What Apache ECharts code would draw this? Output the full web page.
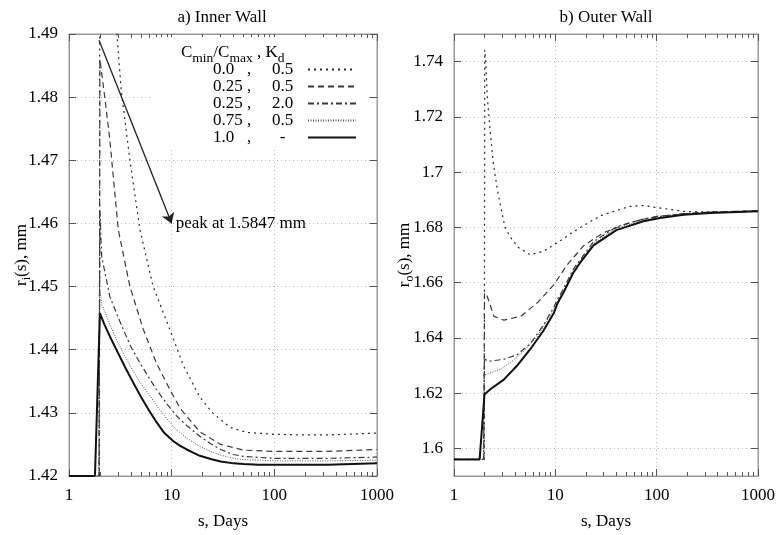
<!DOCTYPE html>
<html><head><meta charset="utf-8">
<script src="https://cdn.jsdelivr.net/npm/echarts@6/dist/echarts.min.js"></script>
<style>html,body{margin:0;padding:0;background:#fff}#c{width:783px;height:535px}</style>
</head><body><div id="c"></div><script>
// ---------- data ----------
const seriesNames = ['0.0 , 0.5', '0.25, 0.5', '0.25, 2.0', '0.75, 0.5', '1.0 , -'];
const keyRatio = ['0.0', '0.25', '0.25', '0.75', '1.0'];
const keyKd = ['0.5', '0.5', '2.0', '0.5', '-'];
const xTickLabels = ['1', '10', '100', '1000'];
const minorTicks = [2,3,4,5,6,7,8,9,20,30,40,50,60,70,80,90,200,300,400,500,600,700,800,900];
const innerTicks = [1.42, 1.43, 1.44, 1.45, 1.46, 1.47, 1.48, 1.49];
const outerTicks = [1.6, 1.62, 1.64, 1.66, 1.68, 1.7, 1.72, 1.74];

// a) inner wall
const inner00Days = [1, 1.98, 2.0, 2.2, 2.5, 2.93, 3.23, 3.92, 4.91, 6.6, 9.6, 13, 18.8, 25, 37, 54, 100, 200, 330, 340, 1000];
const inner00R    = [1.42, 1.42, 1.5847, 1.55, 1.515, 1.49, 1.481, 1.47, 1.459, 1.45, 1.4432, 1.4375, 1.4325, 1.4300, 1.4277, 1.4269, 1.4266, 1.4265, 1.4265, 1.4268, 1.4268];
const inner025Days = [1, 1.97, 2.0, 2.25, 2.5, 3.02, 3.92, 5.3, 7.1, 9.6, 12.1, 18.8, 30, 50, 100, 330, 340, 1000];
const inner025R    = [1.42, 1.42, 1.486, 1.4795, 1.4732, 1.459, 1.45, 1.4432, 1.4379, 1.4337, 1.4307, 1.4270, 1.4250, 1.4241, 1.4239, 1.4239, 1.4242, 1.4242];
const inner025kDays = [1, 1.96, 2.0, 2.08, 2.5, 3.0, 3.38, 4.0, 4.91, 6.0, 7.1, 9.0, 11.2, 14, 18.8, 24, 30, 40, 50, 100, 330, 340, 1000];
const inner025kR    = [1.42, 1.42, 1.462, 1.4548, 1.4484, 1.4452, 1.4432, 1.4405, 1.4379, 1.4356, 1.4337, 1.4314, 1.4295, 1.4280, 1.4263, 1.4251, 1.4242, 1.4234, 1.4231, 1.4228, 1.4228, 1.4230, 1.4230];
const inner075Days = [1, 1.95, 1.98, 2.08, 2.5, 2.91, 3.5, 4.22, 5.0, 6.15, 7.5, 8.93, 11, 14, 18.8, 24, 30, 40, 50, 100, 330, 340, 1000];
const inner075R    = [1.42, 1.42, 1.4500, 1.4472, 1.4440, 1.4416, 1.4390, 1.4366, 1.4347, 1.4327, 1.4307, 1.4291, 1.4274, 1.4260, 1.4247, 1.4239, 1.4233, 1.4228, 1.4226, 1.4224, 1.4224, 1.4225, 1.4225];
const inner10Days = [1, 1.79, 2.0, 2.2, 2.5, 3.0, 3.5, 4.0, 5.0, 6.0, 7.0, 8.5, 10.4, 12, 14, 18.8, 24, 30, 40, 50, 70, 100, 330, 340, 1000];
const inner10R    = [1.42, 1.42, 1.4458, 1.4441, 1.4421, 1.4395, 1.4373, 1.4355, 1.4326, 1.4304, 1.4287, 1.4268, 1.4255, 1.4248, 1.4242, 1.4232, 1.4227, 1.4223, 1.4220, 1.4219, 1.4218, 1.4218, 1.4218, 1.4220, 1.4220];

// b) outer wall
const outer00Days = [1, 1.99, 2.01, 2.06, 2.13, 2.27, 2.44, 2.68, 2.85, 3.19, 3.6, 4.3, 5.6, 7.6, 10.3, 16.3, 23.8, 29.7, 54.5, 74, 108, 184, 335, 1000];
const outer00R    = [1.596, 1.596, 1.7442, 1.7394, 1.7273, 1.7153, 1.7033, 1.6936, 1.6885, 1.680, 1.6765, 1.6728, 1.6701, 1.6713, 1.6743, 1.6792, 1.6828, 1.6846, 1.6876, 1.6879, 1.6870, 1.6858, 1.6855, 1.6858];
const outer025Days = [1, 1.97, 2.0, 2.13, 2.48, 3.11, 4.55, 6.64, 9.7, 13.1, 19.2, 29.7, 54.5, 100, 335, 1000];
const outer025R    = [1.596, 1.596, 1.6563, 1.655, 1.6478, 1.6464, 1.6478, 1.6527, 1.6593, 1.6665, 1.6735, 1.6780, 1.6818, 1.6840, 1.6856, 1.6860];
const outer025kDays = [1, 1.96, 2.0, 2.27, 3.07, 4.16, 5.63, 7.6, 9.7, 10.5, 12, 15, 23.8, 40, 74, 108, 184, 335, 1000];
const outer025kR    = [1.596, 1.596, 1.6322, 1.6316, 1.6322, 1.6338, 1.6378, 1.6445, 1.6512, 1.6540, 1.6577, 1.6648, 1.6748, 1.6802, 1.6830, 1.6840, 1.6850, 1.6855, 1.6859];
const outer075Days = [1, 1.95, 1.98, 2.85, 3.6, 4.83, 6.64, 7.6, 9.7, 10.5, 12, 15, 23.8, 40, 74, 108, 184, 335, 1000];
const outer075R    = [1.596, 1.596, 1.6265, 1.6286, 1.6310, 1.6350, 1.6405, 1.6438, 1.6505, 1.6532, 1.6569, 1.6641, 1.6741, 1.6797, 1.6826, 1.6837, 1.6848, 1.6853, 1.6858];
const outer10Days = [1, 1.79, 2.0, 2.3, 3.1, 4.16, 5.63, 7.6, 9.7, 10.5, 12, 15, 18.2, 23.8, 40, 74, 108, 184, 335, 1000];
const outer10R    = [1.596, 1.596, 1.6195, 1.6215, 1.6249, 1.6298, 1.6358, 1.6425, 1.6491, 1.6525, 1.6563, 1.6635, 1.6680, 1.6735, 1.6790, 1.6822, 1.6834, 1.6846, 1.6852, 1.6858];

// ---------- build ----------
const FONT = 'Liberation Serif';
const FS = 17;
const zip = (a, b) => a.map((v, i) => [v, b[i]]);
const innerData = [zip(inner00Days, inner00R), zip(inner025Days, inner025R), zip(inner025kDays, inner025kR), zip(inner075Days, inner075R), zip(inner10Days, inner10R)];
const outerData = [zip(outer00Days, outer00R), zip(outer025Days, outer025R), zip(outer025kDays, outer025kR), zip(outer075Days, outer075R), zip(outer10Days, outer10R)];

const lineStyles = [
  {color: '#2a2a2a', width: 1.2, type: [2, 4]},
  {color: '#3a3a3a', width: 1.2, type: [6, 4]},
  {color: '#3a3a3a', width: 1.2, type: [6, 3, 2, 3]},
  {color: '#555', width: 1, type: [1, 1.5]},
  {color: '#111', width: 2, type: 'solid'}
];

const tickColor = '#555';
const gridLine = {show: true, lineStyle: {color: '#bbb', type: [1, 3], width: 1}};
const frameLine = {show: true, onZero: false, lineStyle: {color: '#999', width: 1}};
// minor tick positions on a hidden linear decade axis (0..3 decades)
const minorDecades = minorTicks.map(v => Math.log10(v));

function xAxesFor(g) {
  const base = {gridIndex: g, type: 'log', logBase: 10, min: 1, max: 1000, axisLine: frameLine};
  const minorBase = {gridIndex: g, type: 'value', min: 0, max: 3, axisLine: frameLine,
    axisLabel: {show: false}, splitLine: {show: false}};
  return [
    Object.assign({}, base, {
      position: 'bottom',
      axisTick: {show: true, inside: true, length: 7, lineStyle: {color: tickColor, width: 1}},
      axisLabel: {show: true, margin: 11, fontFamily: FONT, fontSize: FS, color: '#000',
        formatter: v => xTickLabels[Math.round(Math.log10(v))]},
      splitLine: gridLine,
      name: 's, Days', nameLocation: 'middle', nameGap: 37, nameMoveOverlap: false,
      nameTextStyle: {fontFamily: FONT, fontSize: FS, color: '#000'}
    }),
    Object.assign({}, base, {
      position: 'top',
      axisTick: {show: true, inside: true, length: 7, lineStyle: {color: tickColor, width: 1}},
      axisLabel: {show: false}, splitLine: {show: false}
    }),
    Object.assign({}, minorBase, {
      position: 'bottom',
      axisTick: {show: true, inside: true, length: 4, customValues: minorDecades, lineStyle: {color: tickColor, width: 1}}
    }),
    Object.assign({}, minorBase, {
      position: 'top',
      axisTick: {show: true, inside: true, length: 4, customValues: minorDecades, lineStyle: {color: tickColor, width: 1}}
    })
  ];
}

function yAxesFor(g, min, max, ticks, fmt, nameRich, gap) {
  const base = {gridIndex: g, type: 'value', min: min, max: max, axisLine: frameLine};
  return [
    Object.assign({}, base, {
      position: 'left',
      axisTick: {show: true, inside: true, length: 7, customValues: ticks, lineStyle: {color: tickColor, width: 1}},
      axisLabel: {show: true, margin: 11, fontFamily: FONT, fontSize: FS, color: '#000', customValues: ticks, formatter: fmt},
      splitLine: gridLine,
      name: nameRich, nameLocation: 'middle', nameGap: gap, nameMoveOverlap: false,
      nameTextStyle: {fontFamily: FONT, fontSize: FS, color: '#000',
        rich: {m: {fontFamily: FONT, fontSize: FS, color: '#000', lineHeight: 22},
               s: {fontFamily: FONT, fontSize: 12, color: '#000', lineHeight: 11, verticalAlign: 'bottom'}}}
    }),
    Object.assign({}, base, {
      position: 'right',
      axisTick: {show: true, inside: true, length: 7, customValues: ticks, lineStyle: {color: tickColor, width: 1}},
      axisLabel: {show: false}, splitLine: {show: false}
    })
  ];
}

const series = [];
innerData.forEach((d, i) => {
  const s = {type: 'line', name: seriesNames[i], xAxisIndex: 0, yAxisIndex: 0, data: d,
    symbol: 'none', showSymbol: false, lineStyle: lineStyles[i], itemStyle: {color: lineStyles[i].color}, clip: true, z: 3};
  if (i === 0) {
    s.markLine = {silent: true, symbol: ['none', 'arrow'], symbolSize: 10,
      itemStyle: {color: '#222'},
      lineStyle: {color: '#222', width: 1.3, type: 'solid'}, label: {show: false},
      data: [[{coord: [1.96, 1.489]}, {coord: [10, 1.46]}]]};
    s.markPoint = {silent: true, symbol: 'circle', symbolSize: 0,
      label: {show: true, position: 'right', distance: 4, formatter: 'peak at 1.5847 mm',
        fontFamily: FONT, fontSize: FS, color: '#000'},
      data: [{coord: [10, 1.46]}]};
  }
  series.push(s);
});
outerData.forEach((d, i) => {
  series.push({type: 'line', name: seriesNames[i], xAxisIndex: 4, yAxisIndex: 2, data: d,
    symbol: 'none', showSymbol: false, lineStyle: lineStyles[i], itemStyle: {color: lineStyles[i].color}, clip: true, z: 3});
});

const legendRich = {
  n: {fontFamily: FONT, fontSize: FS, color: '#000', width: 34, align: 'left', lineHeight: 16.5},
  c: {fontFamily: FONT, fontSize: FS, color: '#000', width: 15, align: 'left', lineHeight: 16.5},
  k: {fontFamily: FONT, fontSize: FS, color: '#000', width: 41, align: 'center', lineHeight: 16.5}
};

const subRich = {
  m: {fontFamily: FONT, fontSize: FS, fill: '#000', color: '#000', lineHeight: 24},
  s: {fontFamily: FONT, fontSize: 13.5, fill: '#000', color: '#000', lineHeight: 12, verticalAlign: 'bottom'}
};

const chart = echarts.init(document.getElementById('c'), null, {renderer: 'canvas'});
chart.setOption({
  animation: false,
  backgroundColor: '#fff',
  grid: [
    {left: 69, top: 34, width: 308, height: 443, show: true, borderColor: '#999', borderWidth: 1, backgroundColor: 'transparent', containLabel: false},
    {left: 454, top: 34, width: 304, height: 443, show: true, borderColor: '#999', borderWidth: 1, backgroundColor: 'transparent', containLabel: false}
  ],
  xAxis: xAxesFor(0).concat(xAxesFor(1)),
  yAxis: yAxesFor(0, 1.42, 1.49, innerTicks, v => v.toFixed(2), '{m|r}{s|i}{m|(s), mm}', 36)
    .concat(yAxesFor(1, 1.59, 1.75, outerTicks, v => String(parseFloat(v.toFixed(2))), '{m|r}{s|o}{m|(s), mm}', 38)),
  legend: {
    data: seriesNames, orient: 'vertical', left: 153, top: 37, padding: [24, 10, 4, 60],
    backgroundColor: '#fff', align: 'right', itemWidth: 48, itemHeight: 10, itemGap: 0,
    itemStyle: {opacity: 0}, selectedMode: false,
    textStyle: {fontFamily: FONT, fontSize: FS, color: '#000', lineHeight: 16.5, rich: legendRich},
    formatter: name => { const i = seriesNames.indexOf(name); return '{n|' + keyRatio[i] + '}{c|,}{k|' + keyKd[i] + '}'; }
  },
  graphic: [
    {type: 'text', x: 222, y: 18, z: 100, style: {text: 'a) Inner Wall', fontFamily: FONT, fontSize: FS, fill: '#000',
      align: 'center', textAlign: 'center', verticalAlign: 'middle', textVerticalAlign: 'middle'}},
    {type: 'text', x: 606, y: 18, z: 100, style: {text: 'b) Outer Wall', fontFamily: FONT, fontSize: FS, fill: '#000',
      align: 'center', textAlign: 'center', verticalAlign: 'middle', textVerticalAlign: 'middle'}},
    {type: 'text', x: 181, y: 53, z: 100, style: {text: '{m|C}{s|min}{m|/C}{s|max}{m| , K}{s|d}', rich: subRich,
      fontFamily: FONT, fontSize: FS, fill: '#000', align: 'left', textAlign: 'left', verticalAlign: 'middle', textVerticalAlign: 'middle'}}
  ],
  series: series
});
</script></body></html>
